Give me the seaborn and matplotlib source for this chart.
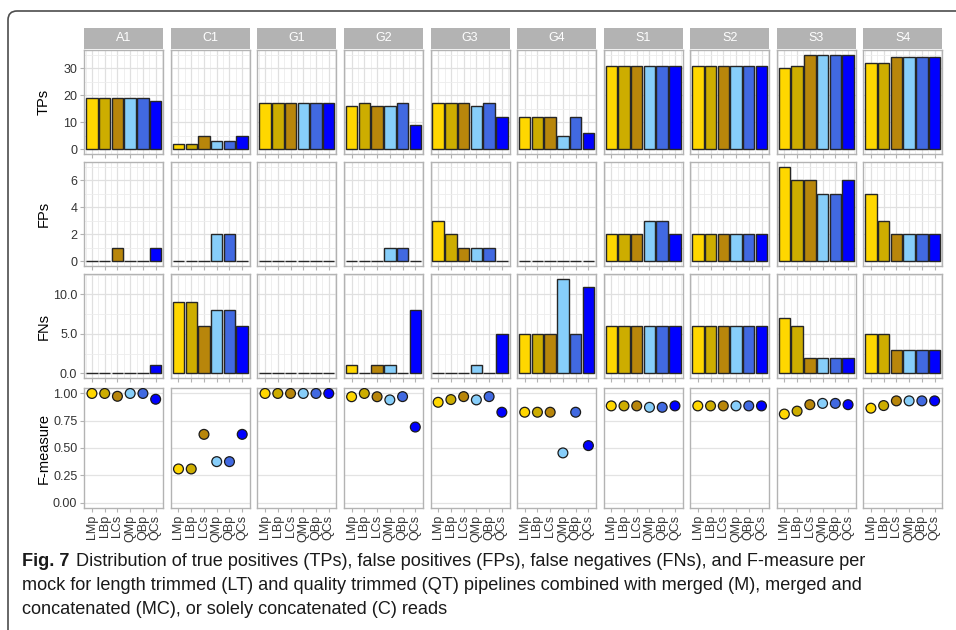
import matplotlib
matplotlib.use("Agg")
import matplotlib.pyplot as plt
import numpy as np
import pandas as pd
import seaborn as sns
from matplotlib.path import Path
from matplotlib.patches import PathPatch
from matplotlib.ticker import FixedLocator, FormatStrFormatter

# ---- data ----
mocks = ["A1", "C1", "G1", "G2", "G3", "G4", "S1", "S2", "S3", "S4"]
pipelines = ["LMp", "LBp", "LCs", "QMp", "QBp", "QCs"]
colors = ["#FFD700", "#CDAD00", "#B8860B", "#87CEFA", "#4169E1", "#0000FF"]

tps = {
    "A1": [19, 19, 19, 19, 19, 18],
    "C1": [2, 2, 5, 3, 3, 5],
    "G1": [17, 17, 17, 17, 17, 17],
    "G2": [16, 17, 16, 16, 17, 9],
    "G3": [17, 17, 17, 16, 17, 12],
    "G4": [12, 12, 12, 5, 12, 6],
    "S1": [31, 31, 31, 31, 31, 31],
    "S2": [31, 31, 31, 31, 31, 31],
    "S3": [30, 31, 35, 35, 35, 35],
    "S4": [32, 32, 34, 34, 34, 34],
}
fps = {
    "A1": [0, 0, 1, 0, 0, 1],
    "C1": [0, 0, 0, 2, 2, 0],
    "G1": [0, 0, 0, 0, 0, 0],
    "G2": [0, 0, 0, 1, 1, 0],
    "G3": [3, 2, 1, 1, 1, 0],
    "G4": [0, 0, 0, 0, 0, 0],
    "S1": [2, 2, 2, 3, 3, 2],
    "S2": [2, 2, 2, 2, 2, 2],
    "S3": [7, 6, 6, 5, 5, 6],
    "S4": [5, 3, 2, 2, 2, 2],
}
fns = {
    "A1": [0, 0, 0, 0, 0, 1],
    "C1": [9, 9, 6, 8, 8, 6],
    "G1": [0, 0, 0, 0, 0, 0],
    "G2": [1, 0, 1, 1, 0, 8],
    "G3": [0, 0, 0, 1, 0, 5],
    "G4": [5, 5, 5, 12, 5, 11],
    "S1": [6, 6, 6, 6, 6, 6],
    "S2": [6, 6, 6, 6, 6, 6],
    "S3": [7, 6, 2, 2, 2, 2],
    "S4": [5, 5, 3, 3, 3, 3],
}
fmeasure = {
    "A1": [1.0, 1.0, 0.974, 1.0, 1.0, 0.947],
    "C1": [0.308, 0.308, 0.625, 0.375, 0.375, 0.625],
    "G1": [1.0, 1.0, 1.0, 1.0, 1.0, 1.0],
    "G2": [0.970, 1.0, 0.970, 0.941, 0.971, 0.692],
    "G3": [0.919, 0.944, 0.971, 0.941, 0.971, 0.828],
    "G4": [0.828, 0.828, 0.828, 0.455, 0.828, 0.522],
    "S1": [0.886, 0.886, 0.886, 0.873, 0.873, 0.886],
    "S2": [0.886, 0.886, 0.886, 0.886, 0.886, 0.886],
    "S3": [0.811, 0.838, 0.897, 0.909, 0.909, 0.897],
    "S4": [0.865, 0.889, 0.932, 0.932, 0.932, 0.932],
}

caption_bold = "Fig. 7"
caption_lines = [
    "Distribution of true positives (TPs), false positives (FPs), false negatives (FNs), and F-measure per",
    "mock for length trimmed (LT) and quality trimmed (QT) pipelines combined with merged (M), merged and",
    "concatenated (MC), or solely concatenated (C) reads",
]

rows = []
for m in mocks:
    for i, p in enumerate(pipelines):
        rows.append({"mock": m, "pipeline": p, "TPs": tps[m][i], "FPs": fps[m][i],
                     "FNs": fns[m][i], "F-measure": fmeasure[m][i]})
df = pd.DataFrame(rows)
palette = dict(zip(pipelines, colors))

sns.set_theme(style="white")
plt.rcParams["font.family"] = ["Liberation Sans", "DejaVu Sans"]

W, H = 956, 630
fig = plt.figure(figsize=(W / 100, H / 100), dpi=100)


def box(x, y, w, h):
    return [x / W, 1 - (y + h) / H, w / W, h / H]


col_x0, col_step, col_w = 84.3, 86.55, 79.0
# metric, top, height, ylim, major ticks, minor ticks, format
row_specs = [
    ("TPs", 50, 104, (-1.75, 36.75), [0, 10, 20, 30], [5, 15, 25, 35], "%d"),
    ("FPs", 162, 104, (-0.35, 7.35), [0, 2, 4, 6], [1, 3, 5, 7], "%d"),
    ("FNs", 274, 104, (-0.6, 12.6), [0, 5, 10], [2.5, 7.5, 12.5], "%.1f"),
    ("F-measure", 388, 120, (-0.05, 1.05), [0, 0.25, 0.5, 0.75, 1.0], [], "%.2f"),
]

grey70 = "#B3B3B3"
for r, (metric, top, height, ylim, majors, minors, fmt) in enumerate(row_specs):
    is_points = metric == "F-measure"
    for c, mock in enumerate(mocks):
        ax = fig.add_axes(box(col_x0 + c * col_step, top, col_w, height))
        sub = df[df["mock"] == mock]
        if is_points:
            sns.scatterplot(data=sub, x="pipeline", y=metric, hue="pipeline",
                            palette=palette, hue_order=pipelines, s=50,
                            edgecolor="#1a1a1a", linewidth=0.9, legend=False,
                            ax=ax, zorder=3)
        else:
            sns.barplot(data=sub, x="pipeline", y=metric, hue="pipeline",
                        palette=palette, order=pipelines, hue_order=pipelines,
                        width=0.9, saturation=1, edgecolor="#262626",
                        linewidth=1.0, legend=False, ax=ax, zorder=3)
        ax.set_xlim(-0.6, 5.6)
        ax.set_ylim(*ylim)
        ax.set_facecolor("white")
        ax.set_axisbelow(True)
        ax.xaxis.set_major_locator(FixedLocator(range(6)))
        ax.yaxis.set_major_locator(FixedLocator(majors))
        ax.yaxis.set_major_formatter(FormatStrFormatter(fmt))
        if is_points:
            ax.grid(axis="y", which="major", color="#E3E3E3", linewidth=0.9)
        else:
            ax.xaxis.set_minor_locator(FixedLocator([i + 0.5 for i in range(-1, 6)]))
            ax.yaxis.set_minor_locator(FixedLocator(minors))
            ax.grid(which="major", color="#E0E0E0", linewidth=0.9)
            ax.grid(which="minor", color="#EDEDED", linewidth=0.6)
        for s in ax.spines.values():
            s.set_color(grey70)
            s.set_linewidth(1.0)
        ax.tick_params(which="major", length=3, color=grey70, width=0.8,
                       labelsize=9, labelcolor="#333333", pad=2)
        ax.tick_params(which="minor", length=0)
        ax.tick_params(axis="x", bottom=True, left=False)
        ax.tick_params(axis="y", left=(c == 0))
        ax.set_xlabel("")
        ax.set_ylabel("")
        if c != 0:
            ax.set_yticklabels([])
        if is_points:
            ax.set_xticks(range(6))
            ax.set_xticklabels(pipelines, rotation=90, fontsize=9, color="#333333")
        else:
            ax.set_xticklabels([])

        if r == 0:
            sax = fig.add_axes(box(col_x0 + c * col_step, 27.5, col_w, 21.5))
            sax.set_facecolor(grey70)
            sax.set_xticks([])
            sax.set_yticks([])
            for s in sax.spines.values():
                s.set_visible(False)
            sax.text(0.5, 0.5, mock, color="white", fontsize=9,
                     ha="center", va="center", transform=sax.transAxes)

    fig.text(44 / W, 1 - (top + height / 2) / H, metric, rotation=90,
             ha="center", va="center", fontsize=10.5, color="black")

# frame around the figure block
verts = [(8, 632), (8, 20), (8, 11), (17, 11), (958, 11)]
verts = [(x / W, 1 - y / H) for x, y in verts]
codes = [Path.MOVETO, Path.LINETO, Path.CURVE3, Path.CURVE3, Path.LINETO]
fig.add_artist(PathPatch(Path(verts, codes), transform=fig.transFigure,
                         fill=False, edgecolor="#4d4d4d", linewidth=1.2))

# caption
cap_family = ["Liberation Sans Narrow", "Liberation Sans", "DejaVu Sans"]
renderer = fig.canvas.get_renderer()
size = 12.0
probe = fig.text(0, 0, caption_bold + "  " + caption_lines[0], fontsize=size, family=cap_family)
width_px = probe.get_window_extent(renderer).width
probe.remove()
size = size * 850 / width_px

tb = fig.text(22 / W, 1 - 562 / H, caption_bold, fontsize=size, family=cap_family,
              weight="bold", va="center", color="#1a1a1a")
bold_w = tb.get_window_extent(renderer).width
fig.text((22 + bold_w + 7) / W, 1 - 562 / H, caption_lines[0], fontsize=size,
         family=cap_family, va="center", color="#1a1a1a")
for k, line in enumerate(caption_lines[1:]):
    fig.text(22 / W, 1 - (585.5 + 23.5 * k) / H, line, fontsize=size,
             family=cap_family, va="center", color="#1a1a1a")

fig.savefig("out.png", dpi=100)
